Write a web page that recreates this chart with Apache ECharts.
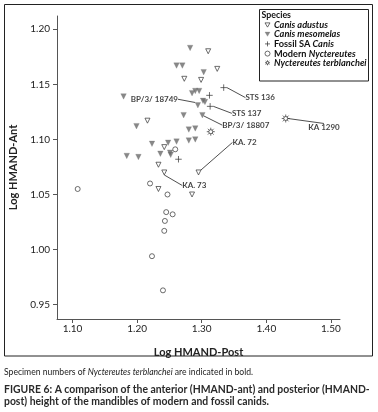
<!DOCTYPE html>
<html><head><meta charset="utf-8">
<script src="https://cdn.jsdelivr.net/npm/echarts@6/dist/echarts.min.js"></script>
<style>html,body{margin:0;padding:0;background:#fff}#c{width:378px;height:412px}</style>
</head><body><div id="c"></div>
<script>
// ---- data ----
const xTicks = [1.10, 1.20, 1.30, 1.40, 1.50];
const yTicks = [0.95, 1.00, 1.05, 1.10, 1.15, 1.20];
const seriesNames = ['Canis adustus', 'Canis mesomelas', 'Fossil SA Canis', 'Modern Nyctereutes', 'Nyctereutes terblanchei'];
// [logHMANDpost, logHMANDant, specimen label]
const canisAdustus = [[1.310,1.180],[1.324,1.164],[1.273,1.155],[1.299,1.154],[1.216,1.117],[1.242,1.093],[1.233,1.077],[1.242,1.070,'KA. 73'],[1.295,1.070,'KA. 72'],[1.233,1.055],[1.285,1.050]];
const canisMesomelas = [[1.282,1.183],[1.261,1.167],[1.270,1.167],[1.303,1.161],[1.285,1.142],[1.290,1.144],[1.296,1.144],[1.302,1.135],[1.294,1.131,'BP/3/ 18749'],[1.305,1.134],[1.179,1.139],[1.272,1.122],[1.301,1.122,'BP/3/ 18807'],[1.199,1.112],[1.280,1.109],[1.290,1.110],[1.223,1.096],[1.248,1.097],[1.261,1.098],[1.280,1.099],[1.290,1.100],[1.184,1.085],[1.202,1.084],[1.236,1.087],[1.251,1.088],[1.252,1.086]];
const fossilCanis = [[1.334,1.147,'STS 136'],[1.312,1.140],[1.313,1.130,'STS 137'],[1.264,1.082]];
const modernNyctereutes = [[1.108,1.055],[1.220,1.060],[1.259,1.091],[1.247,1.050],[1.245,1.034],[1.255,1.032],[1.243,1.026],[1.242,1.017],[1.223,0.994],[1.240,0.963]];
const nyctereutesTerblanchei = [[1.314,1.107],[1.430,1.119,'KA 1290']];

// ---- label placement (layout only) ----
const labelShift = {
  'BP/3/ 18749': {pos:'left', dx:-17, dy:-6},
  'STS 136': {pos:'right', dx:16, dy:10},
  'STS 137': {pos:'right', dx:16, dy:7},
  'BP/3/ 18807': {pos:'right', dx:17, dy:10},
  'KA 1290': {pos:'right', dx:18, dy:9},
  'KA. 72': {pos:'right', dx:31, dy:-30},
  'KA. 73': {pos:'right', dx:15, dy:13}
};

const FONT = 'Lato, "Open Sans", sans-serif';
const ink = '#222';

function toItems(arr){
  return arr.map(d => {
    const item = {value:[d[0], d[1]]};
    if (d[2]) {
      item.label = {show:true, position: labelShift[d[2]].pos, distance:0, formatter: d[2],
        fontSize:8, fontWeight:'bold', fontFamily:FONT, color:'#111'};
      item.labelLine = {show:true, lineStyle:{color:'#222', width:0.8}};
    }
    return item;
  });
}

const symbols = {
  down: 'path://M0,0L10,0L5,8.5Z',
  plus: 'path://M5,0L5,10M0,5L10,5',
  star: 'path://M5,0L5,2.6M5,7.4L5,10M0,5L2.6,5M7.4,5L10,5M1.4,1.4L3.3,3.3M6.7,6.7L8.6,8.6M8.6,1.4L6.7,3.3M3.3,6.7L1.4,8.6M7.5,5A2.5,2.5,0,1,1,2.5,5A2.5,2.5,0,1,1,7.5,5Z'
};

const seriesStyle = [
  {symbol:symbols.down, symbolSize:5, itemStyle:{color:'#fff', borderColor:'#333', borderWidth:0.9}},
  {symbol:symbols.down, symbolSize:5.5, itemStyle:{color:'#6a6a6a', borderColor:'#6a6a6a', borderWidth:0.3}},
  {symbol:symbols.plus, symbolSize:6.5, itemStyle:{color:'none', borderColor:'#333', borderWidth:0.9}},
  {symbol:'circle', symbolSize:5, itemStyle:{color:'#fff', borderColor:'#333', borderWidth:0.9}},
  {symbol:symbols.star, symbolSize:8, itemStyle:{color:'#fff', borderColor:'#333', borderWidth:0.9}}
];
const seriesData = [canisAdustus, canisMesomelas, fossilCanis, modernNyctereutes, nyctereutesTerblanchei];

const chart = echarts.init(document.getElementById('c'), null, {renderer:'canvas'});
chart.setOption({
  animation:false,
  backgroundColor:'#fff',
  grid:{left:57, right:38, top:16, bottom:93, containLabel:false},
  xAxis:{type:'value', min:1.076, max:1.514,
    name:'Log HMAND-Post', nameLocation:'middle', nameGap:28,
    nameTextStyle:{fontSize:11, fontWeight:'bold', fontFamily:FONT, color:ink},
    axisLine:{show:true, onZero:false, lineStyle:{color:'#555', width:1}},
    axisTick:{show:true, length:4, customValues:xTicks, lineStyle:{color:'#555'}},
    axisLabel:{customValues:xTicks, formatter:v=>v.toFixed(2), fontSize:10, fontFamily:FONT, color:ink, margin:5},
    splitLine:{show:false}},
  yAxis:{type:'value', min:0.937, max:1.212,
    name:'Log HMAND-Ant', nameLocation:'middle', nameGap:37,
    nameTextStyle:{fontSize:11, fontWeight:'bold', fontFamily:FONT, color:ink},
    axisLine:{show:true, onZero:false, lineStyle:{color:'#555', width:1}},
    axisTick:{show:true, length:4, customValues:yTicks, lineStyle:{color:'#555'}},
    axisLabel:{customValues:yTicks, formatter:v=>v.toFixed(2), fontSize:10, fontFamily:FONT, color:ink, margin:7},
    splitLine:{show:false}},
  legend:{
    orient:'vertical', left:262.5, top:20.5, padding:0,
    itemWidth:5, itemHeight:5, itemGap:0.2,
    data: seriesNames.map((n, i) => ({name:n, icon:seriesStyle[i].symbol, itemStyle:Object.assign({}, seriesStyle[i].itemStyle)})),
    formatter:function(n){
      if (n === 'Fossil SA Canis') return 'Fossil SA {i|Canis}';
      if (n === 'Modern Nyctereutes') return 'Modern {i|Nyctereutes}';
      return '{i|' + n + '}';
    },
    textStyle:{fontSize:9.2, fontWeight:'bold', fontFamily:FONT, color:'#111', lineHeight:9, padding:[0,0,0,-1],
      rich:{i:{fontStyle:'italic', fontWeight:'bold', fontSize:9.2, fontFamily:FONT, color:'#111', lineHeight:9}}}
  },
  graphic:[
    {type:'rect', shape:{x:4.5, y:4.5, width:368, height:351.5}, style:{fill:'none', stroke:'#222', lineWidth:1}, z:-1},
    {type:'rect', shape:{x:259.5, y:9.5, width:109, height:71.5}, style:{fill:'none', stroke:'#222', lineWidth:1}, z:-1},
    {type:'text', x:261.5, y:10.5, style:{text:'Species', fontSize:8.8, fontWeight:'bold', fontFamily:FONT, fill:'#111'}},
    {type:'text', x:4, y:367.5, style:{text:'Specimen numbers of {i|Nyctereutes terblanchei} are indicated in bold.', fontSize:8.6, fontFamily:FONT, fill:'#222',
      rich:{i:{fontStyle:'italic', fontSize:8.6, fontFamily:FONT, fill:'#222'}}}},
    {type:'text', x:4, y:384.5, style:{text:'FIGURE 6: A comparison of the anterior (HMAND-ant) and posterior (HMAND-', fontSize:10.4, fontWeight:'bold', fontFamily:FONT, fill:'#2a2a2a'}},
    {type:'text', x:4, y:397, style:{text:'post) height of the mandibles of modern and fossil canids.', fontSize:10.4, fontWeight:'bold', fontFamily:FONT, fill:'#2a2a2a'}}
  ],
  series: seriesNames.map((n, i) => Object.assign({
    name:n, type:'scatter', data: toItems(seriesData[i]),
    label:{show:false},
    labelLine:{show:false},
    labelLayout: function(p){ const s = labelShift[p.text]; return s ? {dx:s.dx, dy:s.dy} : {}; },
    emphasis:{disabled:true}
  }, seriesStyle[i]))
});
</script>
</body></html>
